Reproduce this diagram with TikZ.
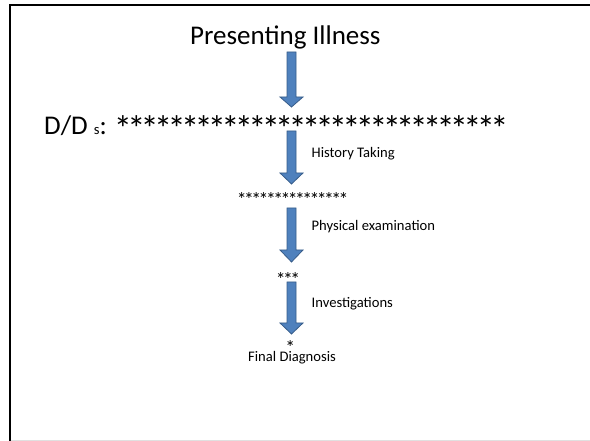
\documentclass[tikz,border=0pt]{standalone}
\usepackage{fontspec}
\usepackage{graphicx}
\setmainfont{Carlito}
\definecolor{arrowfill}{HTML}{4F81BD}
\definecolor{arrowline}{HTML}{385D8A}
\newcommand\bigtxt{\fontsize{27}{30}\selectfont}
\newcommand\smalltxt{\fontsize{14.6}{18}\selectfont}
% one asterisk in a box of 0.498em, enlarged and lowered to sit mid-height
\newcommand\onestar{\makebox[0.498em]{\raisebox{-0.24em}{\scalebox{1.35}{*}}}}
\newcommand\blockarrow[4]{% x, ytop, yhead, ytip
  \filldraw[arrowstyle] (#1-4.5,#2) -- (#1+4.5,#2) -- (#1+4.5,#3) -- (#1+11.5,#3)
    -- (#1,#4) -- (#1-11.5,#3) -- (#1-4.5,#3) -- cycle;}
\begin{document}
\begin{tikzpicture}[x=1pt,y=-1pt,
  arrowstyle/.style={fill=arrowfill,draw=arrowline,line width=0.8pt,line join=miter},
  bigtext/.style={anchor=base west,inner sep=0pt,font=\bigtxt},
  smalltext/.style={anchor=base west,inner sep=0pt,font=\smalltxt}]
\useasboundingbox (0,0) rectangle (590,441);
\fill[white] (0,0) rectangle (590,441);
\draw[line width=2pt] (9.5,441) -- (9.5,5) -- (590,5);
\draw[black!12,line width=1pt] (10.5,440.5) -- (590,440.5);

\node[bigtext] (pi) at (190,45) {Presenting Illness};
\node[bigtext] (dd) at (44,135) {D/D {\smalltxt s}:};
\node[bigtext] (st1) at (116,135) {\onestar\onestar\onestar\onestar\onestar\onestar\onestar\onestar\onestar\onestar\onestar\onestar\onestar\onestar\onestar\onestar\onestar\onestar\onestar\onestar\onestar\onestar\onestar\onestar\onestar\onestar\onestar\onestar\onestar};
\node[smalltext] (ht) at (311.5,158) {History Taking};
\node[smalltext] (st2) at (238,203) {\onestar\onestar\onestar\onestar\onestar\onestar\onestar\onestar\onestar\onestar\onestar\onestar\onestar\onestar\onestar};
\node[smalltext] (pe) at (311.5,231) {Physical examination};
\node[smalltext] (st3) at (277,283) {\onestar\onestar\onestar};
\node[smalltext] (inv) at (311.5,308) {Investigations};
\node[smalltext] (st4) at (286.5,351) {\onestar};
\node[smalltext] (fd) at (248,362) {Final Diagnosis};

\blockarrow{291.5}{52}{97}{107}
\blockarrow{291.5}{131}{173}{184}
\blockarrow{291.5}{208}{250}{262}
\blockarrow{291.5}{282}{323}{334}
\end{tikzpicture}
\end{document}
